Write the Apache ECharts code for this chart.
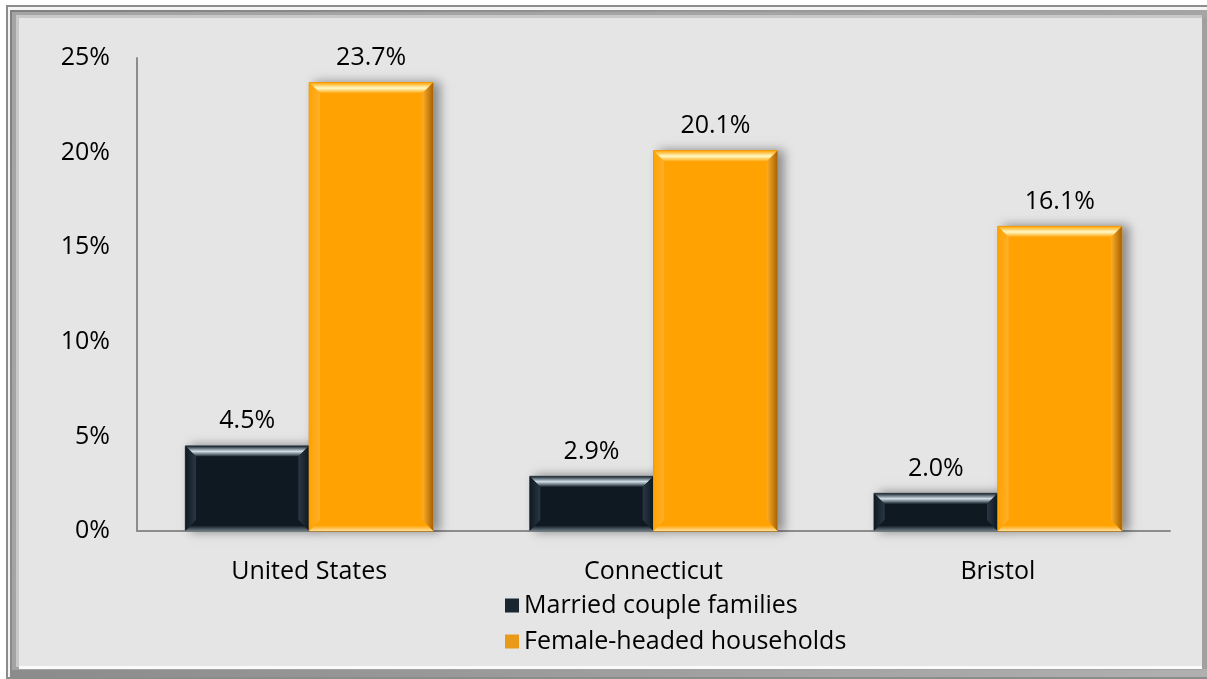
<!DOCTYPE html>
<html>
<head>
<meta charset="utf-8">
<script src="https://cdn.jsdelivr.net/npm/echarts@6/dist/echarts.min.js"></script>
<style>
  html, body { margin: 0; padding: 0; background: #ffffff; }
  #chart { width: 1207px; height: 679px; }
</style>
</head>
<body>
<div id="chart"></div>
<script>
// Poverty rate of families with children, by family type
const categories = ['United States', 'Connecticut', 'Bristol'];
const marriedCouple = [4.5, 2.9, 2.0];
const femaleHeaded = [23.7, 20.1, 16.1];
const seriesNames = ['Married couple families', 'Female-headed households'];
const yTicks = [0, 5, 10, 15, 20, 25];

const FONT = '"Open Sans", "Noto Sans", sans-serif';
const LG = echarts.graphic.LinearGradient;

// Bevel palettes for the two bar styles
const palettes = [
  { face: '#0e1922', edge: '#7a848c', topHi: '#d2e0ea', leftTone: '#2a3844', rightTone: '#26323c', bottomHi: '#6e7c86' },
  { face: '#ffa202', edge: '#f09400', topHi: '#fffbc8', leftTone: '#ffb02a', rightTone: '#a86200', bottomHi: '#ffe09a' }
];

function makeRenderer(seriesIdx) {
  return function (params, api) {
    const cat = api.value(0);
    const v = api.value(1);
    const base = api.coord([cat, 0]);
    const top = api.coord([cat, v]);
    const band = api.size([1, 0])[0];
    const bw = band * 0.36;
    const x0 = seriesIdx === 0 ? base[0] - bw : base[0];
    const x1 = x0 + bw;
    const y0 = top[1];
    const y1 = base[1];
    const h = y1 - y0;
    const b = Math.min(11, h / 2.3);
    const p = palettes[seriesIdx];
    const poly = (pts, fill) => ({ type: 'polygon', shape: { points: pts }, style: { fill: fill }, silent: true });
    return {
      type: 'group',
      children: [
        { type: 'rect', shape: { x: x0, y: y0, width: bw, height: h },
          style: { fill: p.face, stroke: p.edge, lineWidth: 1, shadowBlur: 10, shadowOffsetX: 6, shadowOffsetY: 0, shadowColor: 'rgba(0,0,0,0.4)' } },
        poly([[x0, y0], [x1, y0], [x1 - b, y0 + b], [x0 + b, y0 + b]],
          new LG(0, 0, 0, 1, [{ offset: 0, color: p.face }, { offset: 0.5, color: p.topHi }, { offset: 1, color: p.face }])),
        poly([[x0, y0], [x0 + b, y0 + b], [x0 + b, y1 - b], [x0, y1]],
          new LG(0, 0, 1, 0, [{ offset: 0, color: p.face }, { offset: 1, color: p.leftTone }])),
        poly([[x1, y0], [x1, y1], [x1 - b, y1 - b], [x1 - b, y0 + b]],
          new LG(0, 0, 1, 0, [{ offset: 0, color: p.leftTone }, { offset: 1, color: seriesIdx === 0 ? p.face : p.rightTone }])),
        poly([[x0, y1], [x0 + b, y1 - b], [x1 - b, y1 - b], [x1, y1]],
          new LG(0, 0, 0, 1, [{ offset: 0, color: p.face }, { offset: 0.5, color: p.face }, { offset: 1, color: p.bottomHi }])),
        { type: 'rect', shape: { x: x0 + b, y: y0 + b, width: bw - 2 * b, height: Math.max(0, h - 2 * b) }, style: { fill: p.face }, silent: true },
        { type: 'text', x: (x0 + x1) / 2, y: y0 - 12,
          style: { text: v.toFixed(1) + '%', fill: '#000', font: '25px ' + FONT, align: 'center', verticalAlign: 'bottom' } }
      ]
    };
  };
}

const chart = echarts.init(document.getElementById('chart'), null, { renderer: 'canvas' });

// Beveled picture frame around the plot
const frame = [
  { type: 'rect', shape: { x: 6, y: 5, width: 1201, height: 674 }, style: { fill: '#8c8c8c' }, z: -10 },
  { type: 'rect', shape: { x: 8, y: 7, width: 1199, height: 670 }, style: { fill: '#f4f4f4' }, z: -10 },
  { type: 'rect', shape: { x: 10, y: 10, width: 1197, height: 667 },
    style: { fill: new LG(0, 0, 1, 1, [{ offset: 0, color: '#808080' }, { offset: 1, color: '#b0b0b0' }]) }, z: -10 },
  { type: 'rect', shape: { x: 12, y: 12, width: 1190, height: 658 }, style: { fill: '#a4a4a4' }, z: -10 },
  { type: 'rect', shape: { x: 16, y: 15, width: 1186, height: 652 }, style: { fill: '#c8c8c8' }, z: -10 },
  { type: 'rect', shape: { x: 19, y: 18, width: 1183, height: 648 }, style: { fill: '#e5e5e5' }, z: -10 },
  { type: 'rect', shape: { x: 19, y: 666, width: 1185, height: 3 }, style: { fill: '#fafafa' }, z: -10 },
  { type: 'rect', shape: { x: 1202, y: 18, width: 5, height: 651 }, style: { fill: '#a0a0a0' }, z: -10 }
];

chart.setOption({
  backgroundColor: '#ffffff',
  animation: false,
  graphic: frame,
  grid: { left: 137, right: 37, top: 58, bottom: 148, containLabel: false },
  legend: {
    orient: 'vertical',
    left: 500,
    top: 588,
    itemWidth: 14,
    itemHeight: 14,
    itemGap: 11,
    icon: 'rect',
    textStyle: { fontFamily: FONT, fontSize: 25, color: '#000' },
    data: seriesNames
  },
  xAxis: {
    type: 'category',
    data: categories,
    axisLine: { show: true, lineStyle: { color: '#8c8c8c', width: 2 } },
    axisTick: { show: false },
    axisLabel: { color: '#000', fontFamily: FONT, fontSize: 25, margin: 28 }
  },
  yAxis: {
    type: 'value',
    min: 0,
    max: 25,
    interval: 5,
    axisLine: { show: true, lineStyle: { color: '#8c8c8c', width: 2 } },
    axisTick: { show: false },
    splitLine: { show: false },
    axisLabel: {
      color: '#000', fontFamily: FONT, fontSize: 25, margin: 27,
      formatter: v => (yTicks.indexOf(v) >= 0 ? v + '%' : '')
    }
  },
  series: [
    {
      name: seriesNames[0], type: 'custom',
      itemStyle: { color: '#1a2630' },
      encode: { x: 0, y: 1 },
      data: marriedCouple.map((v, i) => [i, v]),
      renderItem: makeRenderer(0)
    },
    {
      name: seriesNames[1], type: 'custom',
      itemStyle: { color: '#e89a18' },
      encode: { x: 0, y: 1 },
      data: femaleHeaded.map((v, i) => [i, v]),
      renderItem: makeRenderer(1)
    }
  ]
});
</script>
</body>
</html>
